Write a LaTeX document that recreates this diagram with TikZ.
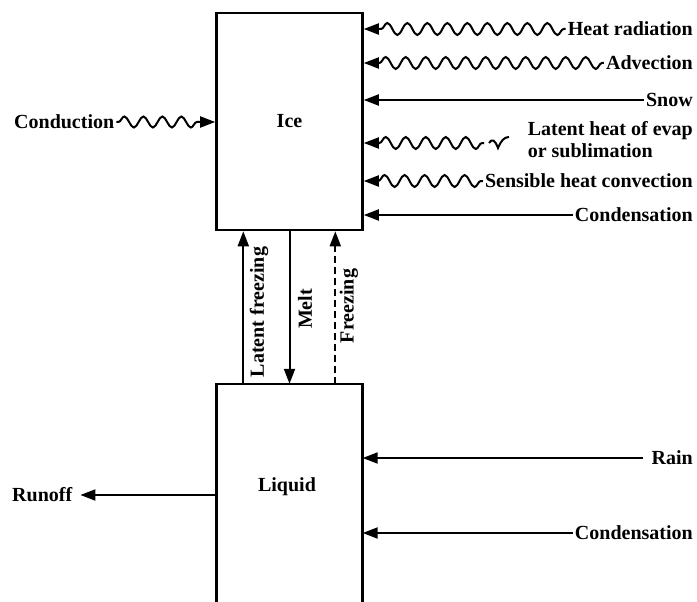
\documentclass[tikz,border=0pt]{standalone}
\usepackage{fontspec}
\setmainfont{Liberation Serif}
\usetikzlibrary{arrows.meta,decorations.pathmorphing,calc}
\begin{document}
\begin{tikzpicture}[x=1pt,y=-1pt,
  font=\fontsize{20}{22}\selectfont\bfseries,
  box/.style={draw,line width=2.6pt,minimum width=146pt,minimum height=217pt,inner sep=0pt},
  lbl/.style={inner sep=2pt},
  arr/.style={line width=2pt,-{Triangle[length=15pt,width=11pt]}},
  wavy/.style={arr,decorate,decoration={snake,segment length=20pt,amplitude=6pt,pre length=2pt,post length=14pt}},
  dash arr/.style={arr,dash pattern=on 7pt off 4pt},
]
\useasboundingbox (0,0) rectangle (697,602);

% boxes
\node[box] (ice) at (289.5,121.5) {Ice};
\node[inner sep=0pt,minimum width=146pt,minimum height=218pt] (liquid) at (289.5,493) {};
\draw[line width=2.6pt] (liquid.south west) -- (liquid.north west) -- (liquid.north east) -- (liquid.south east);
\node (liqlbl) at (287,487) {Liquid};

% right labels (ice)
\node[lbl,anchor=east] (hr) at (695,29) {Heat radiation};
\node[lbl,anchor=east] (adv) at (695,63) {Advection};
\node[lbl,anchor=east] (snow) at (695,100) {Snow};
\node[lbl,anchor=east,align=left,inner sep=0pt] (lh) at (693,140) {Latent heat of evap\\or sublimation};
\node[lbl,anchor=east] (sens) at (695,181) {Sensible heat convection};
\node[lbl,anchor=east] (cond1) at (695,215) {Condensation};

\draw[wavy] (hr.west) -- (ice.east |- hr.west);
\draw[wavy] (adv.west) -- (ice.east |- adv.west);
\draw[arr] (snow.west) -- (ice.east |- snow.west);
\coordinate (lhs) at (484,143);
\draw[wavy] (lhs) -- (ice.east |- lhs);
\draw[line width=2pt] (489,143) .. controls (492,138) and (495,140) .. (498,148) .. controls (501,141) and (504,137) .. (509,137);
\draw[wavy] (sens.west) -- (ice.east |- sens.west);
\draw[arr] (cond1.west) -- (ice.east |- cond1.west);

% left of ice
\node[lbl,anchor=west] (cond) at (12,122) {Conduction};
\draw[wavy,decoration={segment length=19pt,amplitude=5.5pt}] (cond.east) -- (ice.west |- cond.east);

% vertical flows
\coordinate (lf) at ([xshift=27pt]liquid.north west);
\coordinate (fr) at ([xshift=119pt]liquid.north west);
\draw[arr] (lf) -- (lf |- ice.south);
\draw[arr] (ice.south) -- (liquid.north);
\draw[dash arr] (fr) -- (fr |- ice.south);
\node[rotate=90] (lfl) at (259,312) {Latent freezing};
\node[rotate=90] (meltl) at (305,309) {Melt};
\node[rotate=90] (frl) at (349,306) {Freezing};

% liquid flows
\node[lbl,anchor=east] (rain) at (695,458) {Rain};
\node[lbl,anchor=east] (cond2) at (695,533) {Condensation};
\draw[arr] ([xshift=-6pt]rain.west) -- (liquid.east |- rain.west);
\draw[arr] (cond2.west) -- (liquid.east |- cond2.west);
\node[lbl,anchor=west] (runoff) at (10,495) {Runoff};
\draw[arr] (liquid.west |- runoff.east) -- ([xshift=6pt]runoff.east);
\end{tikzpicture}
\end{document}
